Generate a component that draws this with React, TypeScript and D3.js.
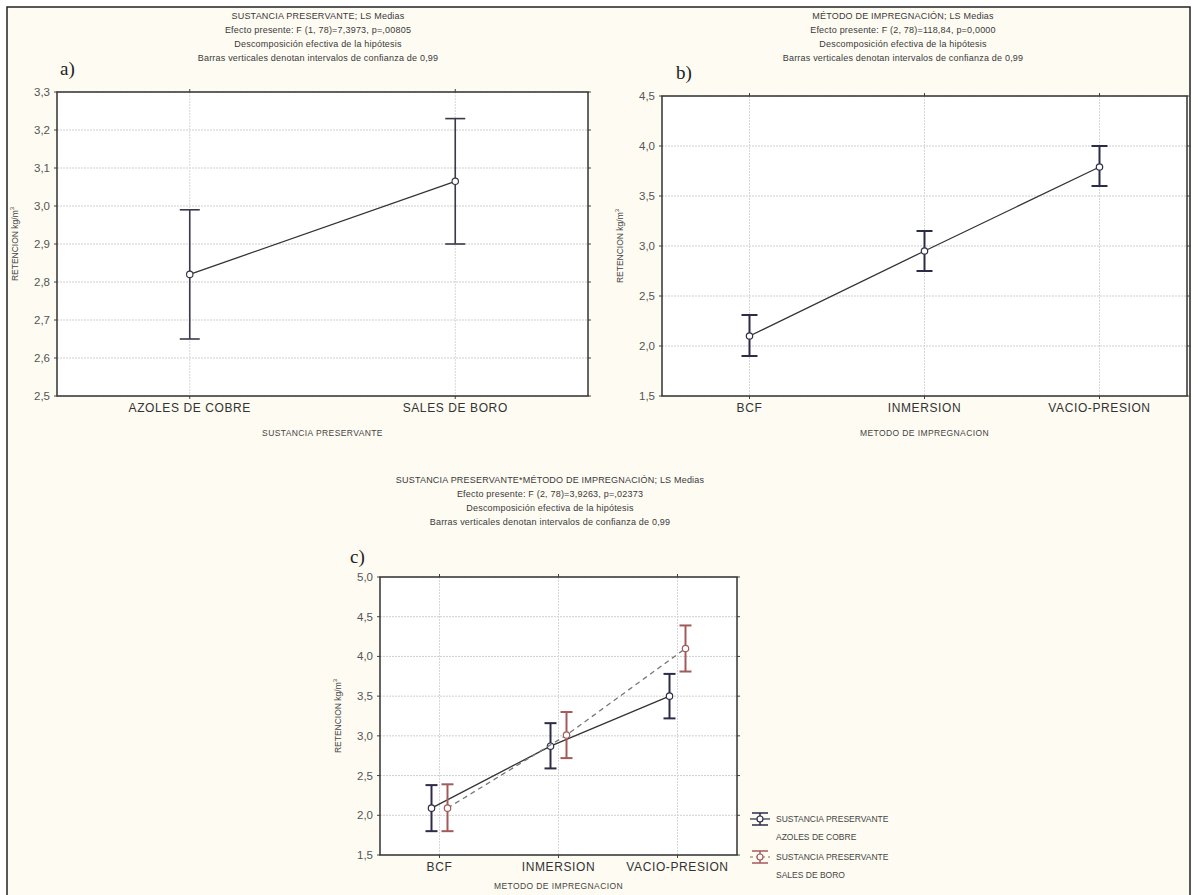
import React from 'react';
import * as d3 from 'd3';

const width = 1198;
const height = 895;

// panel a: sustancia preservante
const sustancias = ['AZOLES DE COBRE', 'SALES DE BORO'];
const meanA = [2.82, 3.065];
const lowA = [2.65, 2.9];
const highA = [2.99, 3.23];
const ticksA = [2.5, 2.6, 2.7, 2.8, 2.9, 3.0, 3.1, 3.2, 3.3];

// panel b: metodo de impregnacion
const metodos = ['BCF', 'INMERSION', 'VACIO-PRESION'];
const meanB = [2.1, 2.95, 3.79];
const lowB = [1.9, 2.75, 3.6];
const highB = [2.31, 3.15, 4.0];
const ticksB = [1.5, 2.0, 2.5, 3.0, 3.5, 4.0, 4.5];

// panel c: interaccion
const meanCAzoles = [2.09, 2.87, 3.5];
const lowCAzoles = [1.8, 2.59, 3.22];
const highCAzoles = [2.38, 3.16, 3.78];
const meanCSales = [2.09, 3.01, 4.1];
const lowCSales = [1.8, 2.72, 3.81];
const highCSales = [2.39, 3.3, 4.39];
const ticksC = [1.5, 2.0, 2.5, 3.0, 3.5, 4.0, 4.5, 5.0];

const titleA = [
  'SUSTANCIA PRESERVANTE; LS Medias',
  'Efecto presente: F (1, 78)=7,3973, p=,00805',
  'Descomposición efectiva de la hipótesis',
  'Barras verticales denotan intervalos de confianza de 0,99'
];
const titleB = [
  'MÉTODO DE IMPREGNACIÓN; LS Medias',
  'Efecto presente: F (2, 78)=118,84, p=0,0000',
  'Descomposición efectiva de la hipótesis',
  'Barras verticales denotan intervalos de confianza de 0,99'
];
const titleC = [
  'SUSTANCIA PRESERVANTE*MÉTODO DE IMPREGNACIÓN; LS Medias',
  'Efecto presente: F (2, 78)=3,9263, p=,02373',
  'Descomposición efectiva de la hipótesis',
  'Barras verticales denotan intervalos de confianza de 0,99'
];

const font = 'Liberation Sans, Arial, sans-serif';
const dark = '#2c2c48';
const red = '#a35a5a';
const fmt = (v: number) => d3.format('.1f')(v).replace('.', ',');

type Series = {
  mean: number[];
  low: number[];
  high: number[];
  color: string;
  line: string;
  dash?: string;
  dx: number;
};

type PanelProps = {
  x0: number; x1: number; y0: number; y1: number;
  cats: string[];
  ticks: number[];
  series: Series[];
  title: string[];
  titleX: number;
  titleY: number;
  letter: string;
  letterX: number;
  letterY: number;
  xTitle: string;
  xTitleOffset: number;
  cap: number;
  barWidth: number;
};

function Panel(p: PanelProps) {
  const x = d3.scalePoint<string>().domain(p.cats).range([p.x0, p.x1]).padding(0.5);
  const y = d3.scaleLinear().domain([p.ticks[0], p.ticks[p.ticks.length - 1]]).range([p.y1, p.y0]);

  return (
    <g>
      {p.title.map((t, i) => (
        <text key={i} x={p.titleX} y={p.titleY + i * 14} textAnchor="middle"
          fontFamily={font} fontSize={9} letterSpacing={0.2} fill="#3a3a3a">{t}</text>
      ))}
      <text x={p.letterX} y={p.letterY} fontFamily="Liberation Serif, Times New Roman, serif"
        fontSize={19} fill="#222">{p.letter}</text>

      <rect x={p.x0} y={p.y0} width={p.x1 - p.x0} height={p.y1 - p.y0} fill="#fff" />

      {/* grid */}
      {p.ticks.map(t => (
        <line key={'g' + t} x1={p.x0} x2={p.x1} y1={y(t)} y2={y(t)}
          stroke="#cfcfcf" strokeWidth={1} strokeDasharray="2,1" />
      ))}
      {p.cats.map(c => (
        <line key={'v' + c} x1={x(c)} x2={x(c)} y1={p.y0} y2={p.y1}
          stroke="#d6d6d6" strokeWidth={1} strokeDasharray="2,1" />
      ))}

      {/* ticks */}
      {p.ticks.map(t => (
        <g key={'t' + t}>
          <line x1={p.x0 - 3} x2={p.x0} y1={y(t)} y2={y(t)} stroke="#444" />
          <line x1={p.x1} x2={p.x1 + 3} y1={y(t)} y2={y(t)} stroke="#444" />
          <text x={p.x0 - 7} y={y(t) + 4} textAnchor="end" fontFamily={font}
            fontSize={11.5} fill="#555">{fmt(t)}</text>
        </g>
      ))}
      {p.cats.map(c => (
        <g key={'c' + c}>
          <line x1={x(c)} x2={x(c)} y1={p.y1} y2={p.y1 + 3} stroke="#444" />
          <line x1={x(c)} x2={x(c)} y1={p.y0 - 3} y2={p.y0} stroke="#444" />
          <text x={x(c)} y={p.y1 + 16} textAnchor="middle" fontFamily={font}
            fontSize={12} letterSpacing={0.6} fill="#333">{c}</text>
        </g>
      ))}
      <text x={(p.x0 + p.x1) / 2} y={p.y1 + p.xTitleOffset} textAnchor="middle" fontFamily={font}
        fontSize={8.5} letterSpacing={0.4} fill="#444">{p.xTitle}</text>
      <text transform={`translate(${p.x0 - 39},${(p.y0 + p.y1) / 2}) rotate(-90)`}
        textAnchor="middle" fontFamily={font} fontSize={8.5} fill="#444">
        RETENCION kg/m<tspan dy={-4} fontSize={6}>3</tspan>
      </text>

      {/* series */}
      {p.series.map((s, si) => {
        const px = (i: number) => (x(p.cats[i]) as number) + s.dx;
        const line = d3.line<number>().x((d, i) => px(i)).y(d => y(d));
        return (
          <g key={'s' + si}>
            <path d={line(s.mean) || ''} fill="none" stroke={s.line} strokeWidth={1.3}
              strokeDasharray={s.dash} />
            {s.mean.map((m, i) => (
              <g key={i}>
                <line x1={px(i)} x2={px(i)} y1={y(s.low[i])} y2={y(s.high[i])}
                  stroke={s.color} strokeWidth={p.barWidth} />
                <line x1={px(i) - p.cap / 2} x2={px(i) + p.cap / 2} y1={y(s.low[i])} y2={y(s.low[i])}
                  stroke={s.color} strokeWidth={p.barWidth} />
                <line x1={px(i) - p.cap / 2} x2={px(i) + p.cap / 2} y1={y(s.high[i])} y2={y(s.high[i])}
                  stroke={s.color} strokeWidth={p.barWidth} />
                <circle cx={px(i)} cy={y(m)} r={3.2} fill="#fff" stroke={s.color} strokeWidth={1.2} />
              </g>
            ))}
          </g>
        );
      })}

      <rect x={p.x0} y={p.y0} width={p.x1 - p.x0} height={p.y1 - p.y0} fill="none"
        stroke="#333" strokeWidth={1.5} />
    </g>
  );
}

function LegendItem({ x0, y0, color, dash, label1, label2 }:
  { x0: number; y0: number; color: string; dash?: string; label1: string; label2: string }) {
  return (
    <g>
      <line x1={x0 - 10} x2={x0 + 10} y1={y0} y2={y0} stroke={color} strokeWidth={1.2} strokeDasharray={dash} />
      <line x1={x0 - 8} x2={x0 + 8} y1={y0 - 6} y2={y0 - 6} stroke={color} strokeWidth={1.5} />
      <line x1={x0 - 8} x2={x0 + 8} y1={y0 + 6} y2={y0 + 6} stroke={color} strokeWidth={1.5} />
      <line x1={x0} x2={x0} y1={y0 - 6} y2={y0 + 6} stroke={color} strokeWidth={1.5} />
      <circle cx={x0} cy={y0} r={3} fill="#fff" stroke={color} strokeWidth={1.2} />
      <text x={x0 + 16} y={y0 + 3} fontFamily={font} fontSize={8.5} fill="#444">{label1}</text>
      <text x={x0 + 16} y={y0 + 21} fontFamily={font} fontSize={8.5} fill="#444">{label2}</text>
    </g>
  );
}

export default function App() {
  return (
    <div style={{ position: 'absolute', left: 0, top: 0 }}>
      <svg width={width} height={height} style={{ display: 'block' }}>
        <rect x={0} y={0} width={width} height={height} fill="#fff" />
        <rect x={7} y={7} width={1183} height={height + 10} fill="#fdfbf2" stroke="#222" strokeWidth={1.5} />

        <Panel x0={57} x1={588} y0={92} y1={396} cats={sustancias} ticks={ticksA}
          series={[{ mean: meanA, low: lowA, high: highA, color: '#3a3a4a', line: '#333', dx: 0 }]}
          title={titleA} titleX={318} titleY={19} letter="a)" letterX={60} letterY={75}
          xTitle="SUSTANCIA PRESERVANTE" xTitleOffset={40} cap={20} barWidth={1.6} />

        <Panel x0={662} x1={1187} y0={96} y1={396} cats={metodos} ticks={ticksB}
          series={[{ mean: meanB, low: lowB, high: highB, color: dark, line: '#333', dx: 0 }]}
          title={titleB} titleX={903} titleY={19} letter="b)" letterX={676} letterY={79}
          xTitle="METODO DE IMPREGNACION" xTitleOffset={40} cap={16} barWidth={2} />

        <Panel x0={380} x1={737} y0={577} y1={855} cats={metodos} ticks={ticksC}
          series={[
            { mean: meanCAzoles, low: lowCAzoles, high: highCAzoles, color: dark, line: '#333', dx: -8 },
            { mean: meanCSales, low: lowCSales, high: highCSales, color: red, line: '#777', dash: '5,4', dx: 8 }
          ]}
          title={titleC} titleX={550} titleY={483} letter="c)" letterX={350} letterY={563}
          xTitle="METODO DE IMPREGNACION" xTitleOffset={34} cap={12} barWidth={2} />

        <LegendItem x0={760} y0={819} color={dark} label1="SUSTANCIA PRESERVANTE" label2="AZOLES DE COBRE" />
        <LegendItem x0={760} y0={857} color={red} dash="3,3" label1="SUSTANCIA PRESERVANTE" label2="SALES DE BORO" />
      </svg>
    </div>
  );
}
